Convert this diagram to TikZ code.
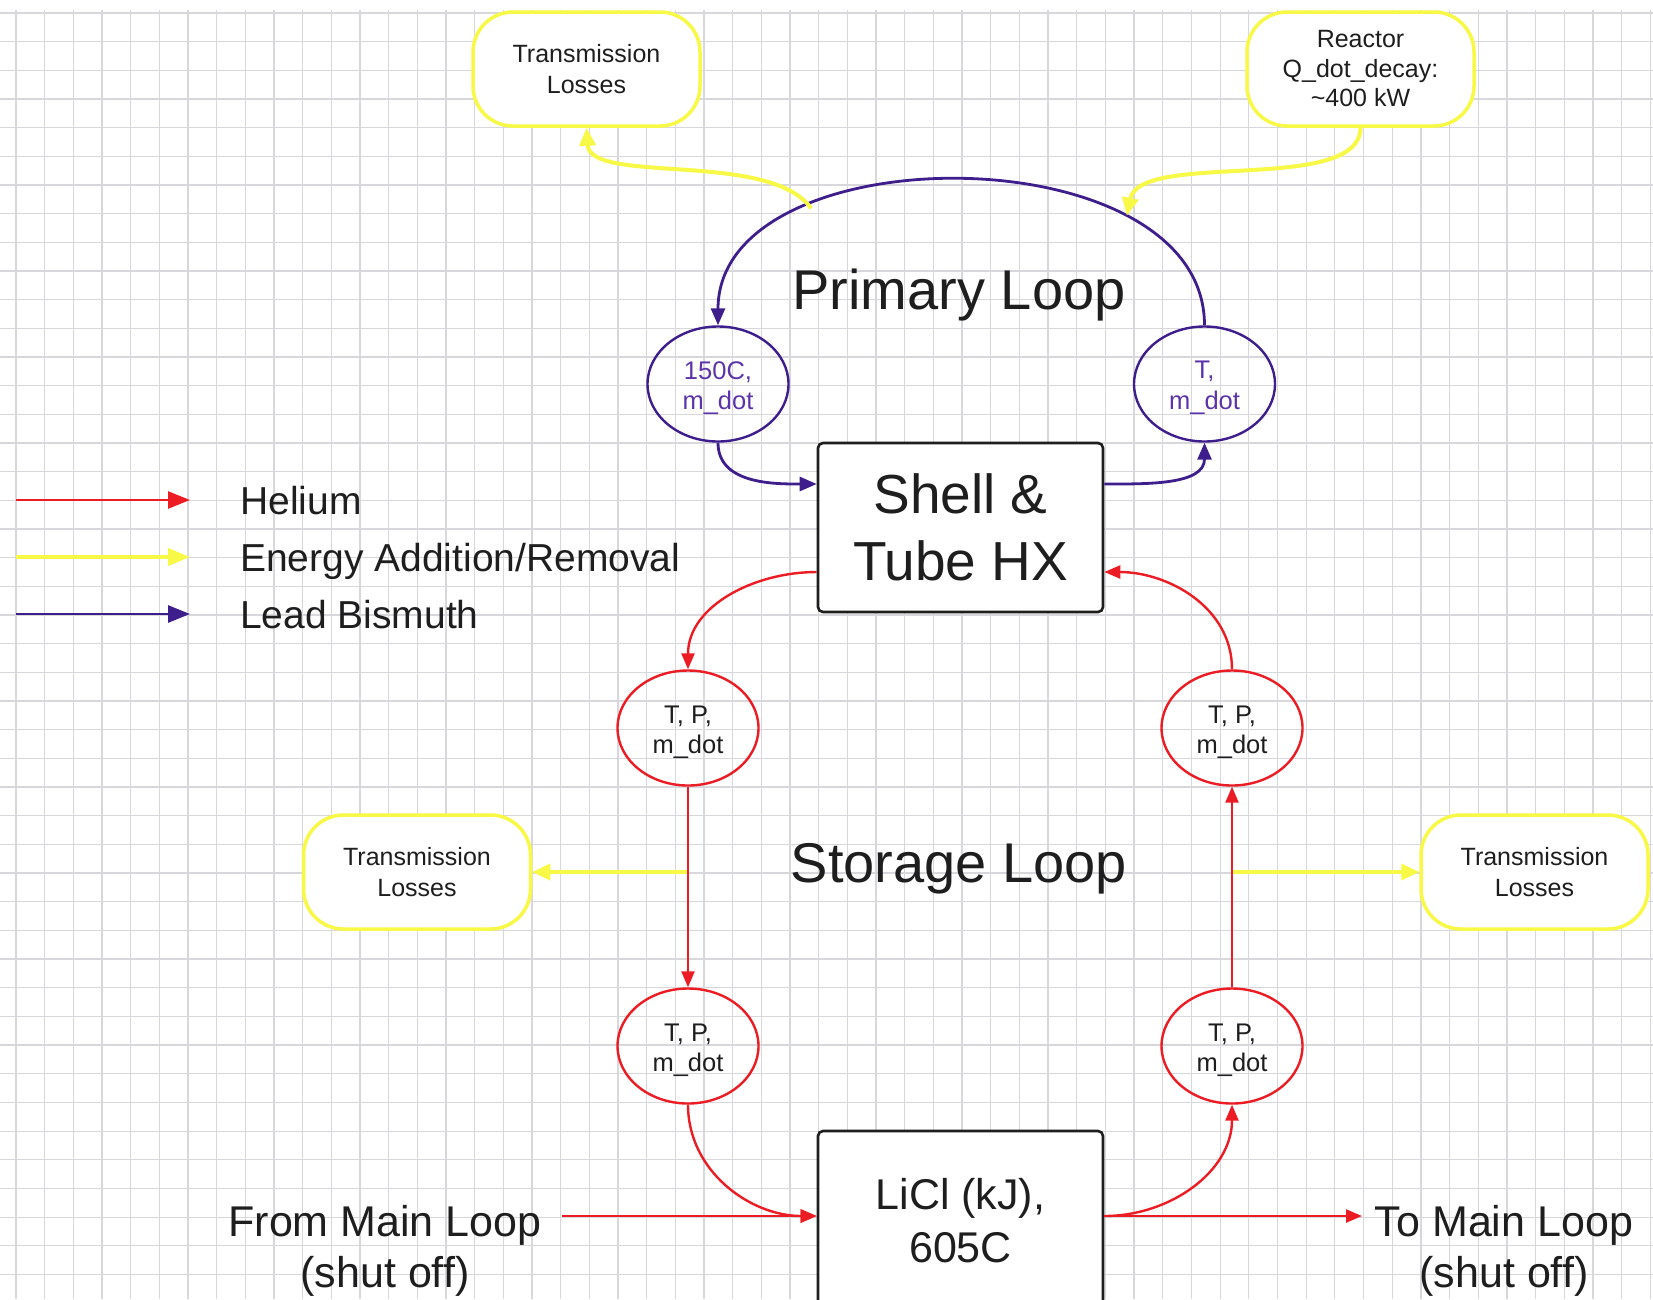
\documentclass[tikz,border=0pt]{standalone}
\usepackage{fontspec}
\setmainfont{Liberation Sans}
\usetikzlibrary{arrows.meta,shapes.geometric,calc}
\definecolor{heliumred}{RGB}{236,28,36}
\definecolor{energyyellow}{RGB}{248,248,70}
\definecolor{leadpurple}{RGB}{62,30,140}
\definecolor{labelpurple}{RGB}{92,52,170}
\definecolor{inkgray}{RGB}{30,30,30}
\definecolor{gridgray}{RGB}{216,216,220}

\begin{document}
\begin{tikzpicture}[x=1pt,y=1pt,
  gridline/.style={draw=gridgray,line width=1.3pt},
  hxbox/.style={draw=inkgray,line width=2.6pt,rounded corners=5pt,fill=white,text=inkgray,
    align=center,inner sep=0pt,font=\fontsize{55}{67}\selectfont},
  storebox/.style={hxbox,font=\fontsize{43}{53}\selectfont},
  energybox/.style={draw=energyyellow,line width=3.5pt,rounded corners=40pt,fill=white,
    text=inkgray,align=center,inner sep=0pt,minimum width=227pt,minimum height=114pt,
    font=\fontsize{25}{31}\selectfont},
  heprobe/.style={ellipse,draw=heliumred,line width=2.4pt,minimum width=141pt,
    minimum height=115pt,inner sep=0pt},
  pbprobe/.style={heprobe,draw=leadpurple},
  probetext/.style={align=center,inner sep=0pt,yshift=-4pt,text=inkgray,
    font=\fontsize{25.5}{30.5}\selectfont},
  pbtext/.style={probetext,text=labelpurple},
  heflow/.style={draw=heliumred,line width=2.4pt,-{Triangle[length=16pt,width=13pt]}},
  energyflow/.style={draw=energyyellow,line width=4pt,-{Triangle[length=18pt,width=16pt]}},
  pbflow/.style={draw=leadpurple,line width=2.8pt,-{Triangle[length=17pt,width=14pt]}},
  keytip/.style={-{Triangle[length=22pt,width=17pt]}},
  looptitle/.style={text=inkgray,font=\fontsize{56}{67}\selectfont,anchor=base,inner sep=0pt},
  legendtext/.style={text=inkgray,font=\fontsize{39}{47}\selectfont,anchor=base west,inner sep=0pt},
  maintext/.style={text=inkgray,font=\fontsize{43}{51}\selectfont,align=center,inner sep=0pt},
]
% page and graph paper
\fill[white] (0,0) rectangle (1653,-1299);
\useasboundingbox (0,0) rectangle (1653,-1299);
\foreach \i in {0,...,57} \draw[gridline] ({16+28.67*\i},-10) -- ({16+28.67*\i},-1299);
\foreach \j in {0,...,44} \draw[gridline] (0,{-13-28.67*\j}) -- (1653,{-13-28.67*\j});

% energy sources and sinks
\node[energybox] (lossP) at (586.5,-69) {Transmission\\Losses};
\node[energybox,font=\fontsize{25}{29.5}\selectfont] (decay) at (1360.5,-69)
  {Reactor\\Q\_dot\_decay:\\\textasciitilde400 kW};
\node[energybox] (lossL) at (417,-872) {Transmission\\Losses};
\node[energybox] (lossR) at (1534.5,-872) {Transmission\\Losses};

% primary (lead bismuth) loop
\node[pbprobe,label={[pbtext]center:{150C,\\m\_dot}}] (pbin) at (718,-384) {};
\node[pbprobe,label={[pbtext]center:{T,\\m\_dot}}] (pbout) at (1204.5,-384) {};
\node[hxbox,minimum width=285pt,minimum height=169pt] (hx) at (960.5,-527.5) {Shell \&\\Tube HX};
\node[looptitle] (primt) at (959,-309) {Primary Loop};

% storage (helium) loop
\node[heprobe,label={[probetext]center:{T, P,\\m\_dot}}] (heA) at (688,-728) {};
\node[heprobe,label={[probetext]center:{T, P,\\m\_dot}}] (heB) at (688,-1046) {};
\node[heprobe,label={[probetext]center:{T, P,\\m\_dot}}] (heC) at (1232,-1046) {};
\node[heprobe,label={[probetext]center:{T, P,\\m\_dot}}] (heD) at (1232,-728) {};
\node[storebox,minimum width=285pt,minimum height=180pt] (licl) at (960.5,-1221) {LiCl (kJ),\\605C};
\node[looptitle] (stort) at (959,-882) {Storage Loop};

\node[maintext] (frommain) at (385,-1251) {From Main Loop\\(shut off)};
\node[maintext] (tomain) at (1504,-1251) {To Main Loop\\(shut off)};
\coordinate (inlet) at (562,-1216);
\coordinate (outlet) at (1362,-1216);
\coordinate (liclin) at ([yshift=5pt]licl.west);
\coordinate (liclout) at ([yshift=5pt]licl.east);

% lead bismuth connectors
\draw[pbflow] (pbout.north) .. controls (1204.5,-132) and (718,-132) .. (pbin.north)
  coordinate[pos=0.253] (heatin) coordinate[pos=0.72] (heatout);
\draw[pbflow] (pbin.south) to[out=-90,in=180] ([yshift=43.5pt]hx.west);
\draw[pbflow] ([yshift=43.5pt]hx.east) to[out=0,in=-90] (pbout.south);

% energy connectors
\draw[energyflow] (heatout) .. controls (770,-150) and (590,-185) .. (lossP.south);
\draw[energyflow] (decay.south) .. controls (1360,-195) and (1140,-150) .. (heatin);
\coordinate (tapL) at (heA.south |- lossL.east);
\coordinate (tapR) at (heD.south |- lossR.west);
\draw[energyflow] (tapL) -- (lossL.east);
\draw[energyflow] (tapR) -- (lossR.west);

% helium connectors
\draw[heflow] ([yshift=-44.5pt]hx.west) to[out=180,in=90] (heA.north);
\draw[heflow] (heA.south) -- (heB.north);
\draw[heflow] (heB.south) to[out=-90,in=180] (liclin);
\draw[heflow] (liclout) to[out=0,in=-90] (heC.south);
\draw[heflow] (heC.north) -- (heD.south);
\draw[heflow] (heD.north) to[out=90,in=0] ([yshift=-44.5pt]hx.east);
\draw[heflow] (inlet) -- (liclin);
\draw[heflow] (liclout) -- (outlet);

% legend
\coordinate (keyHa) at (16,-500);  \coordinate (keyHb) at (190,-500);
\coordinate (keyEa) at (16,-557);  \coordinate (keyEb) at (190,-557);
\coordinate (keyPa) at (16,-614);  \coordinate (keyPb) at (190,-614);
\draw[heflow,keytip] (keyHa) -- (keyHb);
\draw[energyflow,keytip] (keyEa) -- (keyEb);
\draw[pbflow,keytip] (keyPa) -- (keyPb);
\node[legendtext] (keyH) at (240,-514) {Helium};
\node[legendtext] (keyE) at (240,-571) {Energy Addition/Removal};
\node[legendtext] (keyP) at (240,-628) {Lead Bismuth};
\end{tikzpicture}
\end{document}
